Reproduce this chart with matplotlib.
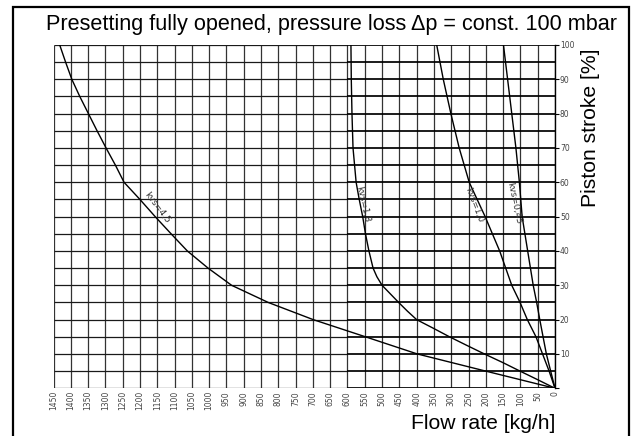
import matplotlib
matplotlib.use("Agg")
import matplotlib.pyplot as plt
from matplotlib.patches import Rectangle

# ---- data ----
stroke_45 = [100, 95, 90, 85, 80, 75, 70, 65, 60, 55, 50, 45, 40, 35, 30, 25, 20, 15, 10, 5, 0]
flow_45 = [1432, 1415, 1397, 1374, 1349, 1324, 1298, 1271, 1246, 1200, 1156, 1110, 1063, 1003, 935,
           829, 699, 548, 398, 200, 0]

stroke_18 = [100, 90, 80, 70, 60, 55, 50, 45, 40, 35, 32.5, 30, 27.5, 25, 22.5, 20, 17.5, 15, 12.5,
             10, 7.5, 5, 2.5, 0]
flow_18 = [590, 589, 587, 584, 575, 566, 556, 548, 538, 526, 515, 500, 476, 452, 427, 400, 352, 305,
           255, 204, 151, 101, 50, 0]

stroke_10 = [100, 90, 80, 70, 60, 50, 40, 30, 25, 20, 15, 10, 5, 0]
flow_10 = [342, 323, 301, 277, 248, 202, 160, 125, 101, 80, 55, 36, 17, 0]

stroke_045 = [100, 90, 80, 70, 60, 50, 40, 30, 25, 20, 10, 0]
flow_045 = [149, 137, 125, 113, 103, 95, 79, 63, 53, 44, 25, 0]

curve_labels = ["kvs=4,5", "kvs=1,8", "kvs=1,0", "kvs=0,45"]
label_pos = [(1150, 52.5), (556, 53.5), (234, 53.5), (118, 54)]
label_rot = [-53, -77, -69, -78]

x_ticks = list(range(1450, -1, -50))
y_ticks = list(range(0, 101, 10))
y_grid = list(range(0, 101, 5))

title = "Presetting fully opened, pressure loss \u0394p = const. 100 mbar"
xlabel = "Flow rate [kg/h]"
ylabel = "Piston stroke [%]"

W, H = 635, 436
fig = plt.figure(figsize=(W / 100, H / 100), dpi=100)
ax = fig.add_axes([53.5 / W, 47.7 / H, (555 - 53.5) / W, (388.3 - 45) / H])
ax.set_xlim(1450, 0)
ax.set_ylim(0, 100)

# grid
split = 600
ax.vlines(x_ticks, 0, 100, color="#333333", lw=0.9, zorder=1)
ax.hlines(y_grid, 1450, split, color="#1a1a1a", lw=0.9, zorder=1)
ax.hlines(y_grid, split, 0, color="black", lw=1.25, zorder=1)

for fx, sy in [(flow_45, stroke_45), (flow_18, stroke_18), (flow_10, stroke_10), (flow_045, stroke_045)]:
    ax.plot(fx, sy, color="black", lw=1.0, zorder=3, solid_joinstyle="round")

for lab, (px, py), rot in zip(curve_labels, label_pos, label_rot):
    ax.text(px, py, lab, rotation=rot, rotation_mode="anchor", ha="center", va="center",
            fontsize=6.5, color="#333333", family="DejaVu Sans", zorder=4)

for s in ["left", "top", "bottom"]:
    ax.spines[s].set_visible(False)
ax.spines["right"].set_linewidth(1.0)
ax.spines["right"].set_color("black")

ax.set_xticks(x_ticks)
ax.set_xticklabels([str(v) for v in x_ticks], rotation=90, fontsize=5.5, color="#444444")
ax.tick_params(axis="x", length=0, pad=2)
ax.yaxis.tick_right()
ax.set_yticks(y_ticks)
ax.set_yticklabels([str(v) if v > 0 else "" for v in y_ticks], fontsize=5.5, color="#444444")
ax.tick_params(axis="y", length=3, width=0.8, pad=0.5, color="black")

fs = 15.2
fig.text(617 / W, 1 - 30 / H, title, ha="right", va="baseline", fontsize=15.6,
         family="Liberation Sans", color="black")
fig.text(555 / W, 1 - 423 / H, xlabel, ha="right", va="center", fontsize=fs,
         family="Liberation Sans", color="black")
fig.text(591 / W, 1 - 128 / H, ylabel, ha="center", va="center", rotation=90, fontsize=fs,
         family="Liberation Sans", color="black")

fig.patches.append(Rectangle((13 / W, -0.05), (629 - 13) / W, 1.05 - 7 / H,
                             transform=fig.transFigure, fill=False, lw=1.6, ec="black"))

fig.savefig("out.png", dpi=100)
